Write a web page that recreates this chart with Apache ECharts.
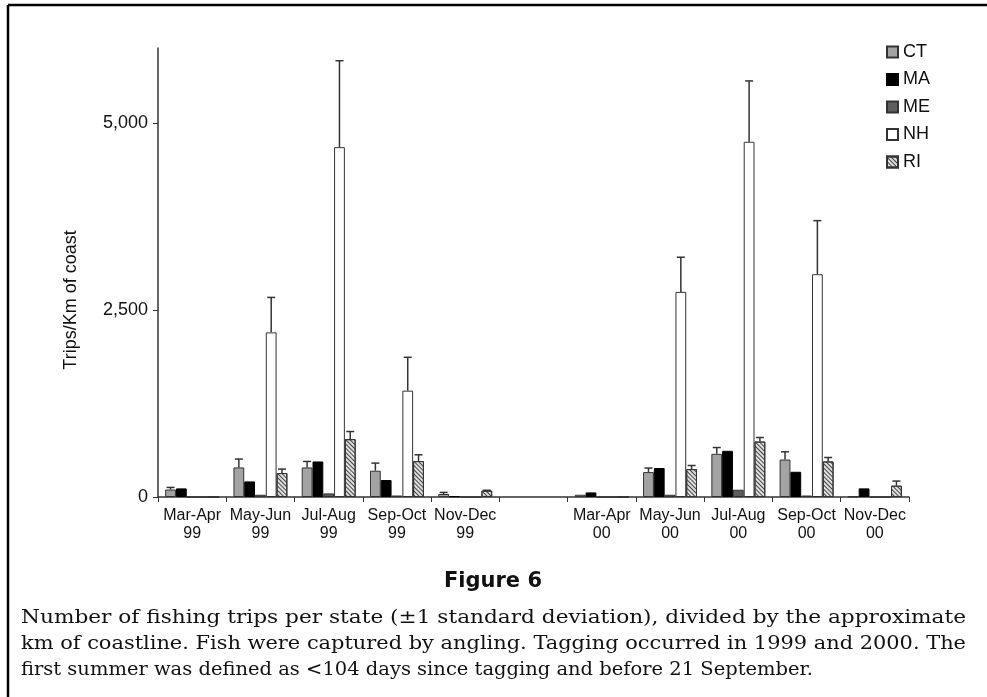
<!DOCTYPE html>
<html>
<head>
<meta charset="utf-8">
<script src="https://cdn.jsdelivr.net/npm/echarts@6/dist/echarts.min.js"></script>
<style>
html,body{margin:0;padding:0;background:#fff;}
#chart{width:987px;height:697px;}
</style>
</head>
<body>
<div id="chart"></div>
<script>
const categories = ['Mar-Apr\n99','May-Jun\n99','Jul-Aug\n99','Sep-Oct\n99','Nov-Dec\n99','',
                    'Mar-Apr\n00','May-Jun\n00','Jul-Aug\n00','Sep-Oct\n00','Nov-Dec\n00'];
const states = ['CT','MA','ME','NH','RI'];
const CT    = [100, 395, 395, 351, 40, null, 30, 333, 577, 501, 5];
const CT_sd = [28, 112, 80, 102, 21, null, null, 54, 84, 103, null];
const MA    = [115, 208, 475, 227, 10, null, 61, 387, 617, 337, 115];
const MA_sd = [null, null, null, null, null, null, null, null, null, null, null];
const ME    = [0, 30, 48, 20, 0, null, 0, 30, 97, 20, 0];
const ME_sd = [null, null, null, null, null, null, null, null, null, null, null];
const NH    = [0, 2200, 4675, 1421, 0, null, 0, 2741, 4747, 2977, 0];
const NH_sd = [null, 467, 1155, 446, null, null, null, 463, 813, 716, null];
const RI    = [0, 320, 773, 480, 84, null, 0, 373, 741, 475, 151];
const RI_sd = [null, 53, 102, 84, 6, null, null, 48, 54, 53, 62];
const yTicks = [0, 2500, 5000];
const yMax = 6000;
const yLabel = 'Trips/Km of coast';
const figTitle = 'Figure 6';
const captionLines = [
  'Number of fishing trips per state (\u00b11 standard deviation), divided by the approximate',
  'km of coastline. Fish were captured by angling. Tagging occurred in 1999 and 2000. The',
  'first summer was defined as <104 days since tagging and before 21 September.'
];

const values = [CT, MA, ME, NH, RI];
const sds = [CT_sd, MA_sd, ME_sd, NH_sd, RI_sd];
const styles = [
  {color:'#a3a3a3', borderColor:'#333', borderWidth:1},
  {color:'#000', borderColor:'#000', borderWidth:1},
  {color:'#5e5e5e', borderColor:'#333', borderWidth:1},
  {color:'#fff', borderColor:'#333', borderWidth:1},
  {color:'#e0e0e0', borderColor:'#333', borderWidth:1,
   decal:{symbol:'rect', symbolSize:1, color:'#444', dashArrayX:[1,0], dashArrayY:[1,1.6], rotation:Math.PI/4}}
];
const catGap = 0.21;
const font = 'Liberation Sans, Arial, sans-serif';

const series = [];
states.forEach((s, k) => {
  series.push({
    name: s, type: 'bar', data: values[k], itemStyle: styles[k],
    barGap: '0%', barCategoryGap: (catGap*100) + '%', animation: false
  });
});
states.forEach((s, k) => {
  const data = [];
  values[k].forEach((v, i) => { if (sds[k][i] != null && v != null) data.push([i, v, v + sds[k][i]]); });
  if (!data.length) return;
  series.push({
    type: 'custom', data: data, z: 5, animation: false, silent: true,
    encode: {x: 0, y: [1, 2]},
    renderItem: function (params, api) {
      const lo = api.coord([api.value(0), api.value(1)]);
      const hi = api.coord([api.value(0), api.value(2)]);
      const bw = api.size([1, 0])[0] * (1 - catGap) / states.length;
      const cx = lo[0] + (k - (states.length - 1) / 2) * bw;
      const st = {stroke: '#333', lineWidth: 1.5};
      return {type: 'group', children: [
        {type: 'line', shape: {x1: cx, y1: lo[1], x2: cx, y2: hi[1]}, style: st},
        {type: 'line', shape: {x1: cx - 4, y1: hi[1], x2: cx + 4, y2: hi[1]}, style: st}
      ]};
    }
  });
});

const capStyle = '18px "DejaVu Serif", serif';
const measureCtx = document.createElement('canvas').getContext('2d');
measureCtx.font = capStyle;
const capLeft = 21, capFullWidth = 945, lastScale = 1.083;
const capGraphics = captionLines.map((line, i) => {
  const w = measureCtx.measureText(line).width;
  const sx = i < captionLines.length - 1 ? capFullWidth / w : lastScale;
  return {type: 'text', x: capLeft, y: 618 + 26 * i, scaleX: sx,
    style: {text: line, font: capStyle, fill: '#111', textVerticalAlign: 'middle'}};
});

const chart = echarts.init(document.getElementById('chart'));
chart.setOption({
  backgroundColor: '#fff',
  animation: false,
  grid: {left: 158, right: 78, top: 48, bottom: 200, containLabel: false},
  legend: {
    data: states, orient: 'vertical', left: 881, top: 38, itemGap: 9.5,
    itemWidth: 11, itemHeight: 11, icon: 'rect',
    textStyle: {fontFamily: font, fontSize: 18, color: '#111'}
  },
  xAxis: {
    type: 'category', data: categories,
    axisLine: {lineStyle: {color: '#333', width: 1.5}},
    axisTick: {show: true, interval: 0, length: 5, lineStyle: {color: '#333'}},
    axisLabel: {interval: 0, fontFamily: font, fontSize: 16, color: '#111', lineHeight: 18, margin: 10}
  },
  yAxis: {
    type: 'value', min: 0, max: yMax, interval: 2500,
    splitLine: {show: false},
    axisLine: {show: true, lineStyle: {color: '#333', width: 1.5}},
    axisTick: {show: true, length: 5, lineStyle: {color: '#333'}, customValues: yTicks},
    axisLabel: {fontFamily: font, fontSize: 18, color: '#111', margin: 10, customValues: yTicks,
      formatter: v => v.toLocaleString('en-US')}
  },
  graphic: [
    {type: 'line', shape: {x1: 8, y1: 5, x2: 987, y2: 5}, style: {stroke: '#000', lineWidth: 2.5}},
    {type: 'line', shape: {x1: 8, y1: 5, x2: 8, y2: 697}, style: {stroke: '#000', lineWidth: 2.5}},
    {type: 'text', x: 71, y: 300, rotation: Math.PI / 2,
      style: {text: yLabel, font: '18px ' + font, fill: '#111', textAlign: 'center', textVerticalAlign: 'middle'}},
    {type: 'text', x: 493, y: 582,
      style: {text: figTitle, font: 'bold 21px "DejaVu Sans", sans-serif', fill: '#111', textAlign: 'center', textVerticalAlign: 'middle'}}
  ].concat(capGraphics),
  series: series
});
</script>
</body>
</html>
